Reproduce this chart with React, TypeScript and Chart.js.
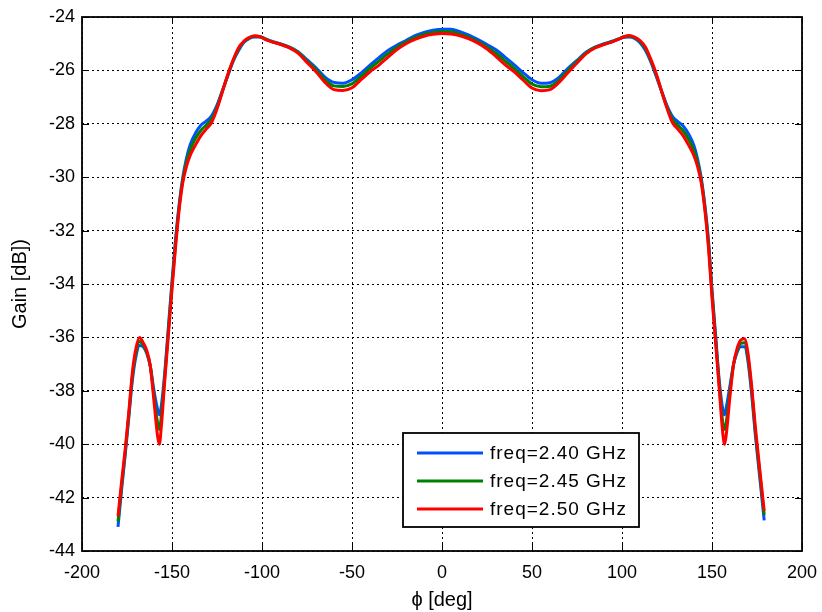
import React, { useEffect, useRef } from 'react';
import { Chart, registerables } from 'chart.js';

Chart.register(...registerables);

const phi = [
  -180, -178, -176, -174, -172, -170, -168, -166, -164, -162, -160, -158, -157, -156,
  -154, -152, -150, -148, -146, -144, -142, -140,
  -137, -134, -131, -128, -125, -122, -119, -116, -113, -110, -107, -104, -101, -98, -95,
  -90, -85, -80, -75, -70, -65, -60, -55, -50, -45, -40, -35, -30, -25, -20, -15, -10, -5, 0,
  5, 10, 15, 20, 25, 30, 35, 40, 45, 50, 55, 60, 65, 70, 75, 80, 85, 90,
  95, 98, 101, 104, 107, 110, 113, 116, 119, 122, 125, 128, 131, 134, 137, 140,
  142, 144, 146, 148, 150, 152, 154, 156, 157,
  158, 160, 162, 164, 166, 168, 170, 172, 174, 176, 179,
];

const gain240 = [
  -43.1, -41.7, -40.4, -39.0, -37.6, -36.7, -36.3, -36.35, -36.6, -37.1, -38.0, -38.7, -38.9, -38.6,
  -37.3, -35.6, -33.9, -32.3, -31.0, -30.0, -29.3, -28.8,
  -28.35, -28.05, -27.9, -27.7, -27.3, -26.75, -26.2, -25.65, -25.25, -24.95, -24.8, -24.75, -24.75, -24.82, -24.9,
  -25.0, -25.12, -25.3, -25.6, -25.9, -26.25, -26.45, -26.48, -26.35, -26.1, -25.8, -25.52, -25.25, -25.05, -24.88, -24.7, -24.58, -24.5, -24.46,
  -24.46, -24.55, -24.68, -24.85, -25.03, -25.23, -25.5, -25.78, -26.08, -26.35, -26.48, -26.46, -26.26, -25.92, -25.62, -25.32, -25.13, -25.0,
  -24.9, -24.82, -24.76, -24.75, -24.8, -24.96, -25.25, -25.68, -26.22, -26.78, -27.32, -27.72, -27.92, -28.08, -28.38, -28.82,
  -29.32, -30.02, -31.02, -32.32, -34.2, -35.9, -37.6, -38.7, -38.9,
  -38.6, -37.8, -37.0, -36.55, -36.35, -36.35, -36.9, -38.1, -39.6, -40.9, -42.85,
];

const gain245 = [
  -42.9, -41.55, -40.3, -38.9, -37.45, -36.55, -36.15, -36.28, -36.55, -37.1, -38.2, -39.2, -39.45, -39.0,
  -37.45, -35.75, -34.05, -32.45, -31.1, -30.1, -29.45, -29.0,
  -28.55, -28.25, -28.05, -27.82, -27.38, -26.78, -26.18, -25.62, -25.2, -24.92, -24.78, -24.72, -24.74, -24.83, -24.91,
  -25.01, -25.13, -25.32, -25.65, -25.98, -26.35, -26.58, -26.6, -26.5, -26.22, -25.92, -25.65, -25.37, -25.13, -24.94, -24.77, -24.65, -24.58, -24.54,
  -24.55, -24.64, -24.76, -24.93, -25.12, -25.36, -25.64, -25.92, -26.23, -26.51, -26.61, -26.59, -26.36, -26.0, -25.67, -25.35, -25.14, -25.02,
  -24.91, -24.83, -24.75, -24.72, -24.77, -24.92, -25.18, -25.63, -26.17, -26.78, -27.37, -27.83, -28.06, -28.26, -28.58, -29.01,
  -29.46, -30.11, -31.11, -32.46, -34.35, -36.05, -37.75, -39.2, -39.45,
  -39.15, -38.0, -37.0, -36.48, -36.22, -36.2, -36.75, -37.95, -39.45, -40.75, -42.65,
];

const gain250 = [
  -42.7, -41.4, -40.2, -38.8, -37.3, -36.4, -36.0, -36.2, -36.5, -37.1, -38.4, -39.7, -40.0, -39.4,
  -37.6, -35.9, -34.2, -32.6, -31.2, -30.2, -29.6, -29.2,
  -28.8, -28.45, -28.2, -27.95, -27.45, -26.8, -26.15, -25.6, -25.15, -24.9, -24.76, -24.7, -24.74, -24.85, -24.92,
  -25.02, -25.15, -25.35, -25.7, -26.05, -26.45, -26.72, -26.75, -26.65, -26.35, -26.05, -25.8, -25.5, -25.22, -25.0, -24.84, -24.72, -24.65, -24.62,
  -24.64, -24.7, -24.82, -24.98, -25.2, -25.48, -25.78, -26.05, -26.36, -26.66, -26.76, -26.72, -26.45, -26.08, -25.72, -25.38, -25.16, -25.03,
  -24.92, -24.84, -24.74, -24.69, -24.75, -24.88, -25.12, -25.58, -26.12, -26.78, -27.42, -27.95, -28.2, -28.45, -28.8, -29.2,
  -29.6, -30.2, -31.2, -32.6, -34.5, -36.2, -37.9, -39.6, -40.0,
  -39.6, -38.2, -37.0, -36.4, -36.1, -36.05, -36.6, -37.8, -39.3, -40.6, -42.5,
];

const seriesLabels = ['freq=2.40 GHz', 'freq=2.45 GHz', 'freq=2.50 GHz'];
const seriesColors = ['#0050ff', '#008000', '#ff0000'];
const seriesValues = [gain240, gain245, gain250];

const xTicks = [-200, -150, -100, -50, 0, 50, 100, 150, 200];
const yTicks = [-44, -42, -40, -38, -36, -34, -32, -30, -28, -26, -24];

const xTitle = 'ϕ [deg]';
const yTitle = 'Gain [dB])';

const FONT = "'Liberation Sans', Arial, Helvetica, sans-serif";

const framePlugin = {
  id: 'matlabFrame',
  afterDraw(chart: any) {
    const { ctx, chartArea: a, scales } = chart;
    ctx.save();
    // inner tick marks
    const tl = 7;
    ctx.strokeStyle = '#000';
    ctx.lineWidth = 1;
    ctx.setLineDash([]);
    ctx.beginPath();
    xTicks.forEach((v) => {
      const px = Math.round(scales.x.getPixelForValue(v)) + 0.5;
      ctx.moveTo(px, a.bottom);
      ctx.lineTo(px, a.bottom - tl);
      ctx.moveTo(px, a.top);
      ctx.lineTo(px, a.top + tl);
    });
    yTicks.forEach((v) => {
      const py = Math.round(scales.y.getPixelForValue(v)) + 0.5;
      ctx.moveTo(a.left, py);
      ctx.lineTo(a.left + tl, py);
      ctx.moveTo(a.right, py);
      ctx.lineTo(a.right - tl, py);
    });
    ctx.stroke();
    // frame
    ctx.lineWidth = 1.8;
    ctx.strokeRect(a.left, a.top, a.right - a.left, a.bottom - a.top);

    // legend
    const lw = 236;
    const lh = 94;
    const lx = a.right - 163 - lw;
    const ly = a.bottom - 24 - lh;
    ctx.fillStyle = '#fff';
    ctx.fillRect(lx, ly, lw, lh);
    ctx.lineWidth = 1.8;
    ctx.strokeRect(lx, ly, lw, lh);
    ctx.font = `19px ${FONT}`;
    try {
      (ctx as any).letterSpacing = '1px';
    } catch (e) {
      /* ignore */
    }
    ctx.textBaseline = 'middle';
    ctx.textAlign = 'left';
    chart.data.datasets.forEach((ds: any, i: number) => {
      const cy = ly + 20 + i * 28;
      ctx.strokeStyle = ds.borderColor;
      ctx.lineWidth = 3;
      ctx.beginPath();
      ctx.moveTo(lx + 14, cy);
      ctx.lineTo(lx + 80, cy);
      ctx.stroke();
      ctx.fillStyle = '#000';
      ctx.fillText(ds.label, lx + 87, cy + 1);
    });
    ctx.restore();
  },
};

export default function App() {
  const canvasRef = useRef<HTMLCanvasElement | null>(null);

  useEffect(() => {
    const canvas = canvasRef.current;
    if (!canvas) return;
    const chart = new Chart(canvas, {
      type: 'line',
      data: {
        datasets: seriesValues.map((vals, i) => ({
          label: seriesLabels[i],
          data: phi.map((p, j) => ({ x: p, y: vals[j] })),
          borderColor: seriesColors[i],
          backgroundColor: seriesColors[i],
          borderWidth: 3,
          pointRadius: 0,
          cubicInterpolationMode: 'monotone' as const,
          fill: false,
          order: 3 - i,
        })),
      },
      options: {
        animation: false,
        responsive: true,
        maintainAspectRatio: false,
        devicePixelRatio: 1,
        layout: { padding: { left: 0, top: 17, right: 20, bottom: 0 } },
        plugins: {
          legend: { display: false },
          tooltip: { enabled: false },
        },
        scales: {
          x: {
            type: 'linear',
            min: -200,
            max: 200,
            afterBuildTicks: (s: any) => {
              s.ticks = xTicks.map((v) => ({ value: v }));
            },
            afterFit: (s: any) => {
              s.height = 61;
              s.paddingLeft = 0;
              s.paddingRight = 0;
            },
            ticks: {
              color: '#000',
              font: { family: FONT, size: 18 },
              padding: 11,
              maxRotation: 0,
              autoSkip: false,
            },
            grid: {
              color: '#000',
              lineWidth: 1,
              drawTicks: false,
              tickLength: 0,
            },
            border: { display: false, dash: [2, 3] },
            title: {
              display: true,
              text: xTitle,
              color: '#000',
              font: { family: FONT, size: 20 },
              padding: { top: 0, bottom: 0 },
            },
          },
          y: {
            type: 'linear',
            min: -44,
            max: -24,
            afterBuildTicks: (s: any) => {
              s.ticks = yTicks.map((v) => ({ value: v }));
            },
            afterFit: (s: any) => {
              s.width = 82;
              s.paddingTop = 0;
              s.paddingBottom = 0;
            },
            ticks: {
              color: '#000',
              font: { family: FONT, size: 18 },
              padding: 7,
              autoSkip: false,
            },
            grid: {
              color: '#000',
              lineWidth: 1,
              drawTicks: false,
              tickLength: 0,
            },
            border: { display: false, dash: [2, 3] },
            title: {
              display: true,
              text: yTitle,
              color: '#000',
              font: { family: FONT, size: 20 },
              padding: { top: 8, bottom: 0 },
            },
          },
        },
      },
      plugins: [framePlugin],
    });
    return () => chart.destroy();
  }, []);

  return (
    <div style={{ position: 'fixed', left: 0, top: 0, width: 822, height: 612, background: '#fff' }}>
      <canvas ref={canvasRef} />
    </div>
  );
}
